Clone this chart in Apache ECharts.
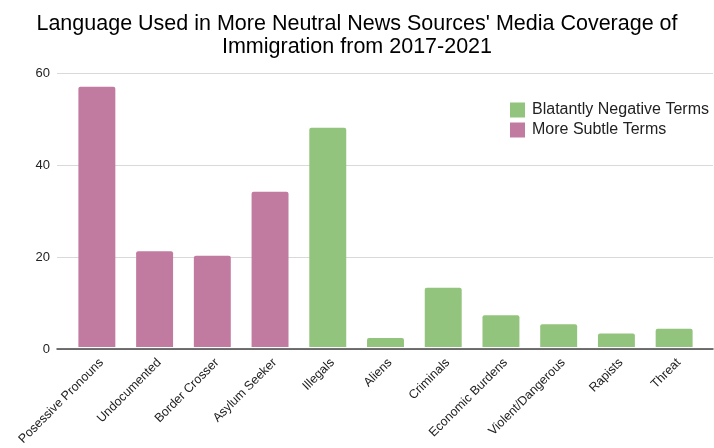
<!DOCTYPE html>
<html>
<head>
<meta charset="utf-8">
<script src="https://cdn.jsdelivr.net/npm/echarts@6/dist/echarts.min.js"></script>
<style>
  html, body { margin: 0; padding: 0; background: #fff; }
  #chart { width: 714px; height: 448px; }
</style>
</head>
<body>
<div id="chart"></div>
<script>
// Terms found in coverage
const categories = ['Posessive Pronouns', 'Undocumented', 'Border Crosser', 'Asylum Seeker',
    'Illegals', 'Aliens', 'Criminals', 'Economic Burdens', 'Violent/Dangerous', 'Rapists', 'Threat'];
// counts, '-' where the term is in the other group
const subtleTerms = [57, 21, 20, 34, '-', '-', '-', '-', '-', '-', '-'];
const negativeTerms = ['-', '-', '-', '-', 48, 2, 13, 7, 5, 3, 4];
const yTicks = [0, 20, 40, 60];

const chart = echarts.init(document.getElementById('chart'));
const font = 'Liberation Sans, Arial, sans-serif';
const yMin = yTicks[0];
const yMax = yTicks[yTicks.length - 1];

chart.setOption({
    animation: false,
    title: {
        text: "Language Used in More Neutral News Sources' Media Coverage of\nImmigration from 2017-2021",
        left: 'center',
        top: 8,
        textStyle: { fontFamily: font, fontSize: 21.5, fontWeight: 'normal', color: '#000', lineHeight: 22.5 }
    },
    legend: {
        orient: 'vertical',
        left: 505,
        top: 97,
        itemWidth: 15,
        itemHeight: 15,
        itemGap: 4,
        icon: 'rect',
        data: ['Blatantly Negative Terms', 'More Subtle Terms'],
        textStyle: { fontFamily: font, fontSize: 16, lineHeight: 15, color: '#222', padding: [0, 0, 0, 2] }
    },
    // grid 0 holds the bars, grid 1 the axis frame which runs a bit wider
    grid: [
        { left: 68, right: 11, top: 73, bottom: 99 },
        { left: 57, right: 1, top: 73, bottom: 99 }
    ],
    xAxis: [
        {
            type: 'category',
            gridIndex: 0,
            data: categories,
            axisTick: { show: false },
            axisLine: { show: false },
            axisLabel: {
                rotate: 45, interval: 0, verticalAlign: 'top',
                fontFamily: font, fontSize: 12.5, color: '#222', margin: 9
            }
        },
        {
            type: 'value',
            gridIndex: 1,
            axisTick: { show: false },
            axisLabel: { show: false },
            splitLine: { show: false },
            axisLine: { onZero: false, lineStyle: { color: '#444', width: 1.5 } }
        }
    ],
    yAxis: [
        {
            type: 'value',
            gridIndex: 0,
            min: yMin,
            max: yMax,
            interval: 20,
            show: false
        },
        {
            type: 'value',
            gridIndex: 1,
            min: yMin,
            max: yMax,
            interval: 20,
            axisLine: { show: false },
            axisTick: { show: false },
            axisLabel: { fontFamily: font, fontSize: 13, color: '#222', margin: 7 },
            splitLine: { lineStyle: { color: '#d9d9d9' } }
        }
    ],
    series: [
        {
            name: 'Blatantly Negative Terms',
            type: 'bar',
            stack: 'all',
            barWidth: '64%',
            data: negativeTerms,
            itemStyle: { color: '#93c47d', borderRadius: [2, 2, 0, 0] }
        },
        {
            name: 'More Subtle Terms',
            type: 'bar',
            stack: 'all',
            barWidth: '64%',
            data: subtleTerms,
            itemStyle: { color: '#c27ba0', borderRadius: [2, 2, 0, 0] }
        }
    ]
});
</script>
</body>
</html>
